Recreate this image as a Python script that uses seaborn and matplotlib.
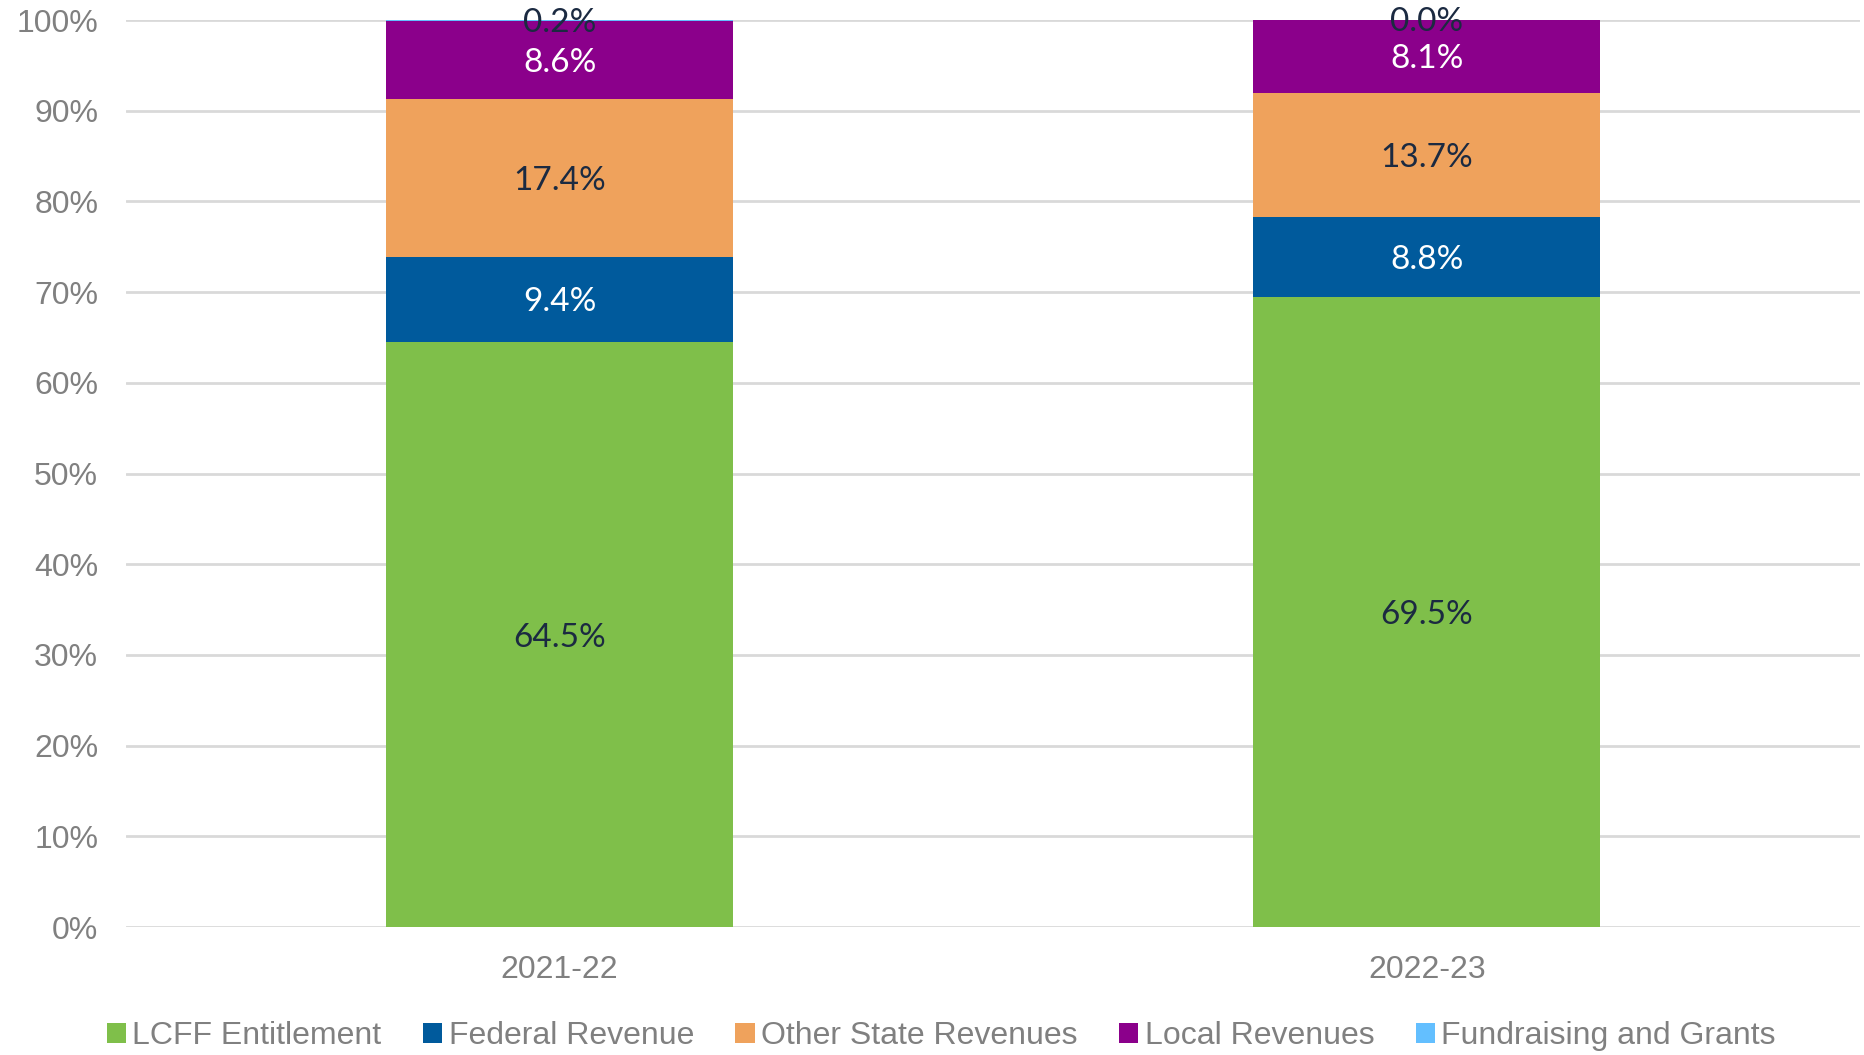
import matplotlib
matplotlib.use("Agg")
import matplotlib.pyplot as plt
import seaborn as sns
import numpy as np
import pandas as pd
from matplotlib.patches import Patch

years = ["2021-22", "2022-23"]
series_names = ["LCFF Entitlement", "Federal Revenue", "Other State Revenues",
                "Local Revenues", "Fundraising and Grants"]
lcff = [64.5, 69.5]
federal = [9.4, 8.8]
other_state = [17.4, 13.7]
local = [8.6, 8.1]
fundraising = [0.2, 0.0]

colors = ["#7FBF4A", "#005A9C", "#EFA25C", "#8B008B", "#63BFFF"]
label_colors = ["#1B2A41", "white", "#1B2A41", "white", "#1B2A41"]

sns.set_theme(style="white")
plt.rcParams['font.family'] = ['Liberation Sans Narrow', 'Liberation Sans', 'DejaVu Sans']

fig = plt.figure(figsize=(18.64, 10.55), dpi=100)
ax = fig.add_axes([0.0676, 0.1213, 0.9304, 0.8597])

values = [lcff, federal, other_state, local, fundraising]
bottom = np.zeros(len(years))
for name, vals, col, lc in zip(series_names, values, colors, label_colors):
    df = pd.DataFrame({"year": years, "val": vals})
    sns.barplot(data=df, x="year", y="val", color=col, width=0.4,
                bottom=bottom, ax=ax, saturation=1, errorbar=None, zorder=3,
                linewidth=0, edgecolor="none")
    for i, v in enumerate(vals):
        ax.text(i, bottom[i] + v / 2, f"{v:.1f}%", ha="center", va="center_baseline",
                color=lc, fontsize=24, family=["Lato", "DejaVu Sans"], zorder=5)
    bottom = bottom + np.array(vals)

ax.set_ylim(0, 100)
ax.set_xlim(-0.5, 1.5)
ax.set_yticks(np.arange(0, 101, 10))
ax.set_yticklabels([f"{t}%" for t in range(0, 101, 10)])
ax.yaxis.grid(True, color="#D9D9D9", linewidth=2, zorder=0)
ax.set_axisbelow(True)
for s in ax.spines.values():
    s.set_visible(False)
ax.set_xlabel("")
ax.set_ylabel("")
ax.tick_params(axis="both", labelsize=23, labelcolor="#808080", length=0)
ax.tick_params(axis="x", pad=20)
ax.tick_params(axis="y", pad=20)

handles = [Patch(facecolor=c, edgecolor="none") for c in colors]
fig.legend(handles, series_names, loc="center", bbox_to_anchor=(0.505, 0.018),
           ncol=5, frameon=False, fontsize=23, handlelength=0.6, handleheight=0.6,
           handletextpad=0.2, columnspacing=1.3, labelcolor="#808080")

fig.savefig("out.png", dpi=100)
